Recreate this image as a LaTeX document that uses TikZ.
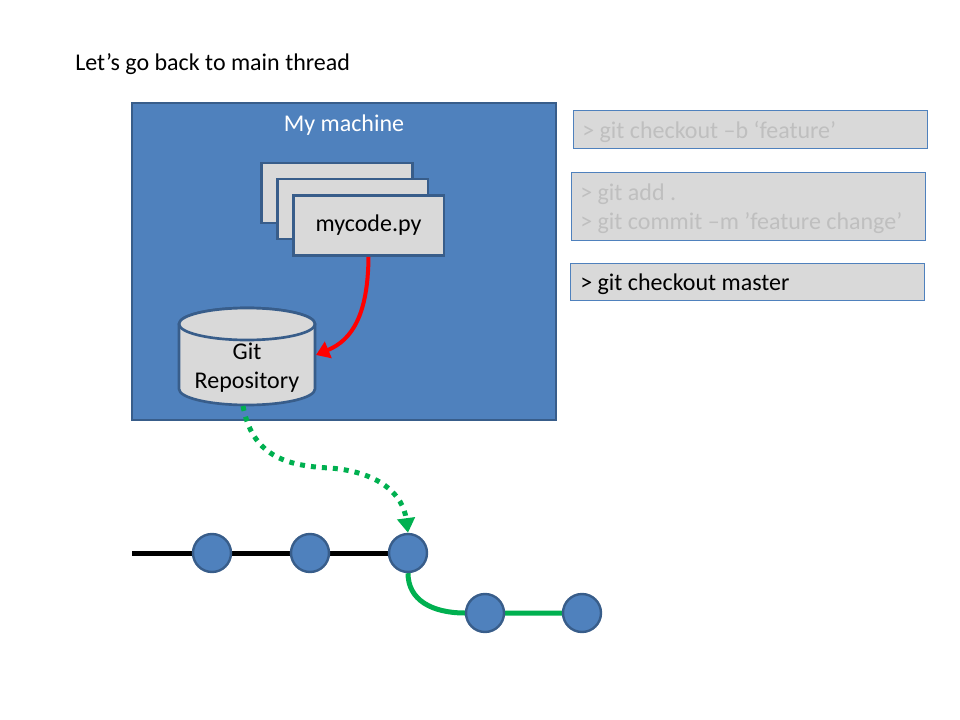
\documentclass[tikz,border=0pt]{standalone}
\usepackage{fontspec}
\setmainfont{Carlito}
\usetikzlibrary{arrows.meta,fit,backgrounds}
\definecolor{blueF}{HTML}{4F81BD}
\definecolor{blueD}{HTML}{385D8A}
\definecolor{grayF}{HTML}{D9D9D9}
\definecolor{grayT}{HTML}{BFBFBF}
\definecolor{greenG}{HTML}{00B050}
\begin{document}
\begin{tikzpicture}[x=0.75pt,y=-0.75pt,
  font=\fontsize{18pt}{21.75pt}\selectfont,
  machine/.style={draw=blueD,fill=blueF,line width=2pt,inner sep=0pt},
  paper/.style={draw=blueD,fill=grayF,line width=2pt,minimum width=113pt,minimum height=45pt,inner sep=0pt},
  cmd/.style={draw=blueF,fill=grayF,line width=0.75pt,minimum width=266pt,inner sep=0pt},
  cmdtext/.style={anchor=west,inner sep=0pt,align=left},
  commit/.style={circle,draw=blueD,fill=blueF,line width=1.8pt,minimum size=28.5pt,inner sep=0pt},
  branchline/.style={line width=3.75pt},
]
\useasboundingbox (0,0) rectangle (960,720);

\node[anchor=west,inner sep=0pt] (title) at (75,64) {Let’s go back to main thread};

\node[machine,fit={(132,103) (556,420)}] (machine) {};
\node[text=white,inner sep=0pt] (mlabel) at (344,125) {My machine};

\node[paper] (p1) at (337,193) {};
\node[paper] (p2) at (352.5,209) {};
\node[paper] (p3) at (368.5,225.5) {\raisebox{-1.5pt}{mycode.py}};

% cylinder
\draw[draw=blueD,fill=grayF,line width=2pt] (179,324) -- (179,389)
  arc[start angle=180,end angle=360,x radius=51pt,y radius=12pt] -- (315,324)
  arc[start angle=0,end angle=180,x radius=51pt,y radius=12pt] -- cycle;
\draw[draw=blueD,fill=grayF,line width=2pt] (247,324) ellipse[x radius=51pt,y radius=12pt];
\node[align=center,inner sep=0pt,minimum width=102pt,minimum height=73pt] (repo) at (247,368) {Git\\Repository};
\coordinate (repoR) at (316,355);
\coordinate (repoB) at (243,406);

\draw[red,line width=3pt,-{Triangle[length=10pt,width=13pt]}] (p3.south) .. controls (368,315) and (352,340) .. (repoR);

% commands
\node[cmd,minimum height=28pt] (cmd1) at (750.5,129.5) {};
\node[cmd,minimum height=51pt] (cmd2) at (748.5,207) {};
\node[cmd,minimum height=28pt] (cmd3) at (747.5,282) {};
\node[cmdtext,text=grayT] (t1) at (582,131.5) {> git checkout –b ‘feature’};
\node[cmdtext,text=grayT] (t2) at (580,209) {> git add .\\> git commit –m ’feature change’};
\node[cmdtext] (t3) at (580,284) {> git checkout master};

% commits
\coordinate (start) at (132,553);
\node[commit] (c1) at (212,553) {};
\node[commit] (c2) at (310,553) {};
\node[commit] (c3) at (408,553) {};
\node[commit] (c4) at (485,613) {};
\node[commit] (c5) at (582,613) {};
\begin{pgfonlayer}{background}
\draw[branchline,black] (start) -- (c1) -- (c2) -- (c3);
\draw[branchline,greenG] (c3.south) .. controls (408,600) and (432,613) .. (c4.west) -- (c5);
\end{pgfonlayer}

\draw[greenG,line width=3.75pt,dash pattern=on 3.75pt off 4.5pt,-{Triangle[length=11pt,width=13pt]}]
  (repoB) .. controls (252,455) and (285,466) .. (330,468) .. controls (380,472) and (403,495) .. (c3.north);
\end{tikzpicture}
\end{document}
